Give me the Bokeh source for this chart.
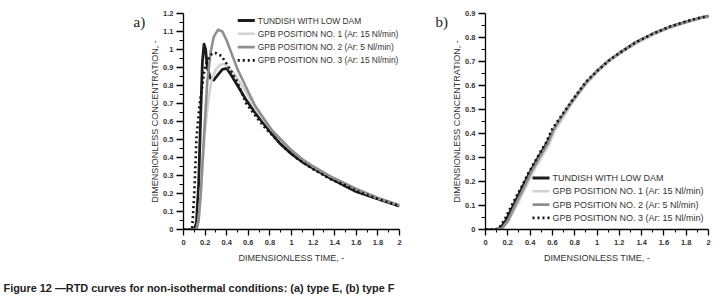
from bokeh.plotting import figure
from bokeh.models import FixedTicker, CustomJSTickFormatter, Label, Range1d
from bokeh.core.properties import value
from bokeh.layouts import row, column
from bokeh.embed import file_html
from bokeh.resources import INLINE

# ---------------- data ----------------
series_names = [
    "TUNDISH WITH LOW DAM",
    "GPB POSITION NO. 1 (Ar: 15 Nl/min)",
    "GPB POSITION NO. 2 (Ar: 5 Nl/min)",
    "GPB POSITION NO. 3 (Ar: 15 Nl/min)",
]

# (a) type E curves
e_dam_x = [0, 0.10, 0.12, 0.14, 0.16, 0.175, 0.19, 0.205, 0.22, 0.25, 0.28, 0.32, 0.36, 0.40, 0.44, 0.50, 0.58,
           0.66, 0.74, 0.82, 0.89, 1.0, 1.1, 1.2, 1.36, 1.5, 1.6, 1.8, 2.0]
e_dam_y = [0, 0, 0.04, 0.25, 0.65, 0.93, 1.03, 1.0, 0.9, 0.84, 0.83, 0.86, 0.89, 0.895, 0.86, 0.80, 0.72,
           0.65, 0.59, 0.53, 0.48, 0.42, 0.375, 0.34, 0.285, 0.24, 0.21, 0.17, 0.13]

e_p1_x = [0, 0.12, 0.14, 0.16, 0.18, 0.20, 0.23, 0.26, 0.30, 0.34, 0.37, 0.40, 0.45, 0.50, 0.58, 0.66, 0.74,
          0.82, 0.90, 1.0, 1.1, 1.2, 1.36, 1.5, 1.6, 1.8, 2.0]
e_p1_y = [0, 0, 0.05, 0.2, 0.38, 0.55, 0.72, 0.83, 0.89, 0.915, 0.92, 0.91, 0.88, 0.84, 0.76, 0.68, 0.61,
          0.55, 0.50, 0.44, 0.39, 0.35, 0.295, 0.255, 0.225, 0.175, 0.135]

e_p2_x = [0, 0.12, 0.14, 0.16, 0.18, 0.20, 0.22, 0.25, 0.28, 0.32, 0.36, 0.40, 0.45, 0.50, 0.58, 0.66, 0.74,
          0.82, 0.90, 1.0, 1.1, 1.2, 1.36, 1.5, 1.6, 1.8, 2.0]
e_p2_y = [0, 0, 0.05, 0.2, 0.42, 0.62, 0.82, 0.98, 1.07, 1.11, 1.10, 1.05, 0.97, 0.89, 0.79, 0.69, 0.62,
          0.55, 0.50, 0.44, 0.39, 0.35, 0.295, 0.255, 0.225, 0.175, 0.135]

e_p3_x = [0, 0.08, 0.10, 0.12, 0.15, 0.17, 0.19, 0.21, 0.24, 0.27, 0.30, 0.35, 0.40, 0.45, 0.49, 0.58, 0.68,
          0.77, 0.86, 0.95, 1.05, 1.2, 1.36, 1.5, 1.6, 1.8, 2.0]
e_p3_y = [0, 0, 0.2, 0.51, 0.70, 0.78, 0.87, 0.92, 0.96, 0.98, 0.98, 0.965, 0.92, 0.87, 0.83, 0.70, 0.62,
          0.555, 0.50, 0.445, 0.395, 0.335, 0.28, 0.245, 0.215, 0.17, 0.13]

# (b) type F curves
f_dam_x = [0, 0.10, 0.13, 0.18, 0.26, 0.33, 0.40, 0.48, 0.55, 0.61, 0.69, 0.78, 0.90, 1.0, 1.11, 1.2, 1.35,
           1.5, 1.65, 1.8, 1.93, 2.0]
f_dam_y = [0, 0, 0.005, 0.035, 0.11, 0.175, 0.24, 0.305, 0.36, 0.415, 0.475, 0.535, 0.61, 0.66, 0.705, 0.735,
           0.78, 0.815, 0.843, 0.865, 0.882, 0.888]

f_p1_x = [0, 0.12, 0.16, 0.21, 0.29, 0.36, 0.42, 0.50, 0.57, 0.62, 0.70, 0.78, 0.90, 1.0, 1.11, 1.2, 1.35,
          1.5, 1.65, 1.8, 1.93, 2.0]
f_p1_y = [0, 0, 0.01, 0.04, 0.11, 0.175, 0.235, 0.30, 0.355, 0.41, 0.47, 0.53, 0.605, 0.655, 0.70, 0.73,
          0.775, 0.81, 0.84, 0.862, 0.88, 0.886]

f_p2_x = [0, 0.12, 0.15, 0.20, 0.275, 0.345, 0.41, 0.49, 0.56, 0.61, 0.69, 0.78, 0.90, 1.0, 1.11, 1.2, 1.35,
          1.5, 1.65, 1.8, 1.93, 2.0]
f_p2_y = [0, 0, 0.005, 0.035, 0.11, 0.175, 0.24, 0.305, 0.36, 0.415, 0.475, 0.535, 0.61, 0.66, 0.705, 0.735,
          0.78, 0.815, 0.843, 0.865, 0.882, 0.888]

f_p3_x = [0, 0.09, 0.12, 0.17, 0.245, 0.32, 0.39, 0.47, 0.54, 0.60, 0.69, 0.78, 0.90, 1.0, 1.11, 1.2, 1.35,
          1.5, 1.65, 1.8, 1.93, 2.0]
f_p3_y = [0, 0, 0.005, 0.04, 0.11, 0.175, 0.24, 0.305, 0.36, 0.42, 0.48, 0.54, 0.615, 0.66, 0.705, 0.735,
          0.78, 0.815, 0.845, 0.867, 0.883, 0.89]

x_ticks = [0, 0.2, 0.4, 0.6, 0.8, 1.0, 1.2, 1.4, 1.6, 1.8, 2.0]
x_minor = [0.1, 0.3, 0.5, 0.7, 0.9, 1.1, 1.3, 1.5, 1.7, 1.9]
ya_ticks = [0, 0.1, 0.2, 0.3, 0.4, 0.5, 0.6, 0.7, 0.8, 0.9, 1.0, 1.1, 1.2]
ya_minor = [0.05, 0.15, 0.25, 0.35, 0.45, 0.55, 0.65, 0.75, 0.85, 0.95, 1.05, 1.15]
yb_ticks = [0, 0.1, 0.2, 0.3, 0.4, 0.5, 0.6, 0.7, 0.8, 0.9]
yb_minor = [0.05, 0.15, 0.25, 0.35, 0.45, 0.55, 0.65, 0.75, 0.85]

x_title = "DIMENSIONLESS TIME, -"
y_title = "DIMENSIONLESS CONCENTRATION, -"
caption = "Figure 12 \u2014RTD curves for non-isothermal conditions: (a) type E, (b) type F"
panel_letters = ["a)", "b)"]

# ---------------- styles / layout ----------------
styles = [
    dict(line_color="#1c1c1c", line_width=2.8),
    dict(line_color="#d2d2d2", line_width=2.6),
    dict(line_color="#8f8f8f", line_width=2.6),
    dict(line_color="#111111", line_width=2.6, line_dash="2 3"),
]
FONT = "Liberation Sans"
TXT = "#333333"
H = 270          # height of the plot row
TOP = 13         # frame top (px)
BOT = 41         # space below frame

fmt = CustomJSTickFormatter(code="return String(Math.round(tick*10)/10);")


def make_fig(width, ymax, yt, ym, bl, br):
    p = figure(width=width, height=H, output_backend="svg", toolbar_location=None,
               x_range=Range1d(0, 2), y_range=Range1d(0, ymax),
               min_border_left=bl, min_border_right=br, min_border_top=TOP, min_border_bottom=BOT)
    p.outline_line_color = None
    p.grid.visible = False
    p.background_fill_color = "white"
    p.border_fill_color = "white"
    p.xaxis.ticker = FixedTicker(ticks=x_ticks, minor_ticks=x_minor)
    p.yaxis.ticker = FixedTicker(ticks=yt, minor_ticks=ym)
    for ax in (p.xaxis, p.yaxis):
        ax.formatter = fmt
        ax.axis_line_color = "black"
        ax.axis_line_width = 1.3
        ax.major_tick_line_color = "black"
        ax.minor_tick_line_color = "black"
        ax.major_tick_line_width = 1.3
        ax.minor_tick_line_width = 1.1
        ax.major_tick_in = 0
        ax.minor_tick_in = 0
        ax.major_label_text_font = FONT
        ax.major_label_text_font_size = "7.5px"
        ax.major_label_text_font_style = "bold"
        ax.major_label_text_color = TXT
        ax.axis_label_text_font = FONT
        ax.axis_label_text_font_size = "9px"
        ax.axis_label_text_font_style = "normal"
        ax.axis_label_text_color = TXT
    p.yaxis.major_tick_out = 7
    p.yaxis.minor_tick_out = 4
    p.xaxis.major_tick_out = 6
    p.xaxis.minor_tick_out = 3
    p.yaxis.major_label_standoff = 3
    p.xaxis.major_label_standoff = 4
    p.xaxis.axis_label = x_title
    p.yaxis.axis_label = y_title
    p.xaxis.axis_label_standoff = 5
    p.yaxis.axis_label_standoff = 0
    return p


# page columns: [letter a: 0-147][p1: 147-430, frame 184-399][letter b: 430-448][p2: 448-725, frame 486-709]
p1 = make_fig(283, 1.2, ya_ticks, ya_minor, 36, 31)
p2 = make_fig(277, 0.9, yb_ticks, yb_minor, 37, 17)

e_data = [(e_dam_x, e_dam_y), (e_p1_x, e_p1_y), (e_p2_x, e_p2_y), (e_p3_x, e_p3_y)]
f_data = [(f_dam_x, f_dam_y), (f_p1_x, f_p1_y), (f_p2_x, f_p2_y), (f_p3_x, f_p3_y)]


def add_curves(p, data, frame_px, ymax, leg_left, leg_top, font_size):
    """Draw curves and a hand-made legend whose position is given in frame pixels."""
    fw, fh = frame_px
    px_x = lambda px: px * 2.0 / fw
    px_y = lambda px: ymax - px * ymax / fh
    for name, (xs, ys), st in zip(series_names, data, styles):
        p.line(xs, ys, line_join="round", **st)
    for i, (name, st) in enumerate(zip(series_names, styles)):
        yy = px_y(leg_top + i * 13.3)
        p.line([px_x(leg_left), px_x(leg_left + 17)], [yy, yy], **st)
        p.text(x=[px_x(leg_left + 20)], y=[yy], text=[name], text_font=value(FONT),
               text_font_size=font_size, text_color=TXT, text_baseline="middle", text_align="left")


add_curves(p1, e_data, (215, 216), 1.2, 54, 7, "8.4px")
add_curves(p2, f_data, (223, 216), 0.9, 47, 164.5, "9px")


def letter_fig(width, letter, x):
    f = figure(width=width, height=H, output_backend="svg", toolbar_location=None,
               x_range=Range1d(0, width), y_range=Range1d(0, H), min_border=0, outline_line_color=None)
    f.axis.visible = False
    f.grid.visible = False
    f.add_layout(Label(x=x, y=H - 11, text=letter, text_font="Liberation Serif", text_font_size="15px",
                       text_color="#222222", text_baseline="middle", text_align="left"))
    return f


fa = letter_fig(147, panel_letters[0], 133)
fb = letter_fig(18, panel_letters[1], 5)

cap = figure(width=725, height=31, output_backend="svg", toolbar_location=None,
             x_range=Range1d(0, 725), y_range=Range1d(0, 31),
             min_border=0, outline_line_color=None)
cap.axis.visible = False
cap.grid.visible = False
cap.add_layout(Label(x=3, y=14, text=caption, text_font=FONT, text_font_size="10.9px",
                     text_font_style="bold", text_color="#222222", text_baseline="middle"))

layout = column(row(fa, p1, fb, p2), cap)
open("out.html", "w").write(file_html(layout, INLINE))
